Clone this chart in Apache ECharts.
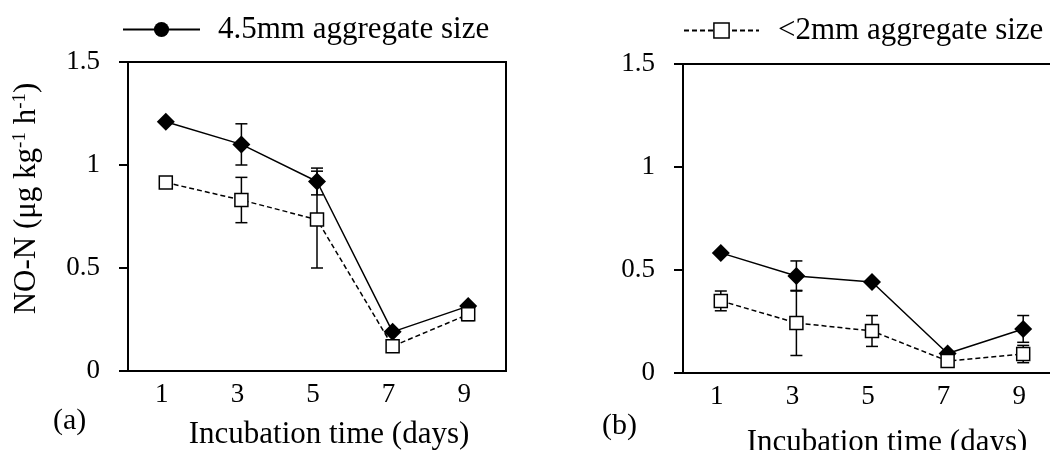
<!DOCTYPE html>
<html>
<head>
<meta charset="utf-8">
<script src="https://cdn.jsdelivr.net/npm/echarts@6/dist/echarts.min.js"></script>
<style>
  html, body { margin: 0; padding: 0; background: #fff; }
  #chart { width: 1050px; height: 450px; }
</style>
</head>
<body>
<div id="chart"></div>
<script>
// 横轴：培养天数
const days = ['1', '3', '5', '7', '9']
const yTicks = [0, 0.5, 1, 1.5]

// (a) 两种团聚体粒径的 NO-N 值及误差
const aCoarse = [1.21, 1.10, 0.92, 0.19, 0.315]
const aCoarseErr = [0, 0.10, 0.065, 0, 0]
const aFine = [0.915, 0.83, 0.735, 0.12, 0.275]
const aFineErr = [0.015, 0.11, 0.235, 0, 0.03]

// (b)
const bCoarse = [0.583, 0.471, 0.442, 0.095, 0.214]
const bCoarseErr = [0, 0.073, 0.01, 0, 0.065]
const bFine = [0.35, 0.243, 0.204, 0.058, 0.092]
const bFineErr = [0.048, 0.158, 0.075, 0, 0.042]

const coarseName = '4.5mm aggregate size'
const fineName = '<2mm aggregate size'
const font = "'Liberation Serif', 'Times New Roman', serif"

const chart = echarts.init(document.getElementById('chart'))

// 误差线
function errorRender(params, api) {
  const top = api.coord([api.value(0), api.value(2)])
  const bot = api.coord([api.value(0), api.value(1)])
  const w = 6
  const style = { stroke: '#000', lineWidth: 1.5 }
  return {
    type: 'group',
    children: [
      { type: 'line', shape: { x1: top[0], y1: top[1], x2: bot[0], y2: bot[1] }, style },
      { type: 'line', shape: { x1: top[0] - w, y1: top[1], x2: top[0] + w, y2: top[1] }, style },
      { type: 'line', shape: { x1: bot[0] - w, y1: bot[1], x2: bot[0] + w, y2: bot[1] }, style }
    ]
  }
}

function errData(values, errs) {
  return values.map((v, i) => [i, v - errs[i], v + errs[i]]).filter((d, i) => errs[i] > 0)
}

function xAxis(gridIndex, pad) {
  return {
    type: 'category',
    gridIndex,
    data: days,
    name: 'Incubation time (days)',
    nameLocation: 'middle',
    nameGap: gridIndex === 0 ? 48 : 54,
    nameTextStyle: { fontFamily: font, fontSize: 31, color: '#000', padding: [0, 0, 0, pad] },
    axisLine: { lineStyle: { color: '#000', width: 2 } },
    axisTick: { length: 9, lineStyle: { color: '#000', width: 2 } },
    axisLabel: { fontFamily: font, fontSize: 27, color: '#000', margin: 10, padding: [0, 8, 0, 0] },
    splitLine: { show: false }
  }
}

function yAxis(gridIndex) {
  const axis = {
    type: 'value',
    gridIndex,
    min: yTicks[0],
    max: yTicks[yTicks.length - 1],
    interval: 0.5,
    axisLine: { show: true, lineStyle: { color: '#000', width: 2 } },
    axisTick: { show: true, length: 9, lineStyle: { color: '#000', width: 2 } },
    axisLabel: { fontFamily: font, fontSize: 27, color: '#000', margin: 28 },
    splitLine: { show: false }
  }
  if (gridIndex === 0) {
    axis.name = 'NO-N (μg kg{sup|-1} h{sup|-1})'
    axis.nameLocation = 'middle'
    axis.nameGap = 86
    axis.nameTextStyle = {
      fontFamily: font, fontSize: 31, color: '#000', padding: [0, 0, 0, 36],
      rich: { sup: { fontFamily: font, fontSize: 19, color: '#000', verticalAlign: 'top' } }
    }
  }
  return axis
}

function coarseSeries(idx, values) {
  return {
    name: coarseName,
    type: 'line',
    xAxisIndex: idx,
    yAxisIndex: idx,
    symbol: 'circle',
    symbolSize: 18,
    data: values.map(v => ({ value: v, symbol: 'diamond' })),
    lineStyle: { color: '#000', width: 1.5 },
    itemStyle: { color: '#000' },
    emphasis: { disabled: true },
    z: 3
  }
}

function fineSeries(idx, values) {
  return {
    name: fineName,
    type: 'line',
    xAxisIndex: idx,
    yAxisIndex: idx,
    symbol: 'rect',
    symbolSize: 13,
    data: values,
    lineStyle: { color: '#000', width: 1.5, type: [5, 3] },
    itemStyle: { color: '#fff', borderColor: '#000', borderWidth: 1.5 },
    emphasis: { disabled: true },
    z: 4
  }
}

function errSeries(idx, values, errs) {
  return {
    type: 'custom',
    xAxisIndex: idx,
    yAxisIndex: idx,
    renderItem: errorRender,
    data: errData(values, errs),
    silent: true,
    z: 2
  }
}

const legendText = { fontFamily: font, fontSize: 31, color: '#000' }

const option = {
  animation: false,
  backgroundColor: '#fff',
  legend: [
    {
      data: [coarseName], left: 122, top: 14, padding: 0, itemWidth: 77, itemHeight: 19,
      selectedMode: false, itemStyle: { borderWidth: 0 },
      textStyle: Object.assign({ padding: [0, 0, 0, 13] }, legendText)
    },
    {
      data: [fineName], left: 683, top: 15, padding: 0, itemWidth: 75, itemHeight: 19,
      selectedMode: false, itemStyle: { borderWidth: 1.5 },
      textStyle: Object.assign({ padding: [0, 0, 0, 14] }, legendText)
    }
  ],
  grid: [
    { left: 128, top: 62, width: 378, height: 309, show: true, borderColor: '#000', borderWidth: 2, outerBoundsMode: 'none' },
    { left: 683, top: 64, width: 378, height: 309, show: true, borderColor: '#000', borderWidth: 2, outerBoundsMode: 'none' }
  ],
  xAxis: [xAxis(0, 24), xAxis(1, 30)],
  yAxis: [yAxis(0), yAxis(1)],
  graphic: [
    { type: 'text', left: 53, top: 406, style: { text: '(a)', font: '30px ' + font, fill: '#000' } },
    { type: 'text', left: 602, top: 411, style: { text: '(b)', font: '30px ' + font, fill: '#000' } }
  ],
  series: [
    errSeries(0, aCoarse, aCoarseErr),
    errSeries(0, aFine, aFineErr),
    coarseSeries(0, aCoarse),
    fineSeries(0, aFine),
    errSeries(1, bCoarse, bCoarseErr),
    errSeries(1, bFine, bFineErr),
    coarseSeries(1, bCoarse),
    fineSeries(1, bFine)
  ]
}

chart.setOption(option)
</script>
</body>
</html>
